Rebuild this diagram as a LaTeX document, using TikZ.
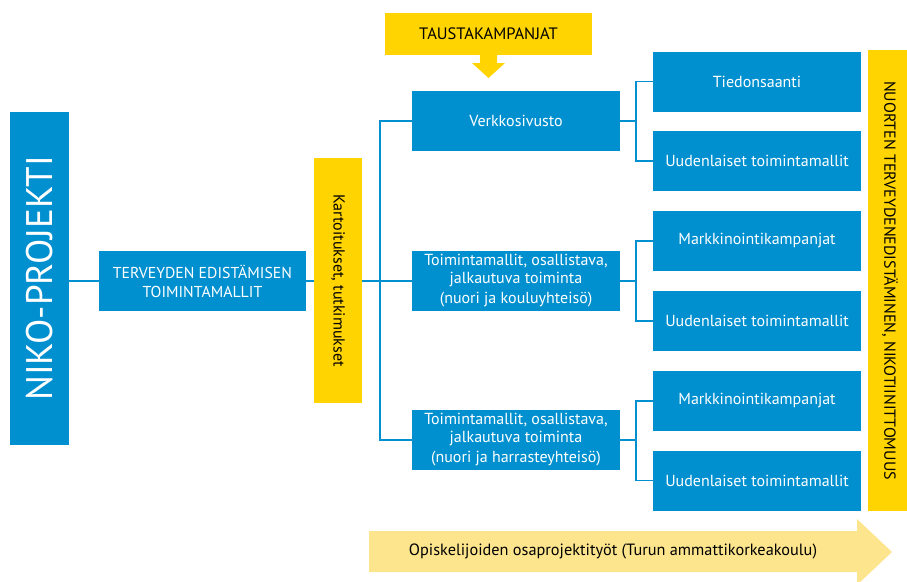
\documentclass[tikz,border=0pt]{standalone}
\usepackage{fontspec}
\setmainfont{PT Sans}
\usetikzlibrary{calc}
\definecolor{nikoblue}{RGB}{0,144,207}
\definecolor{nikoyel}{RGB}{255,212,0}
\definecolor{nikopale}{RGB}{253,229,142}

\begin{document}
\begin{tikzpicture}[x=1pt,y=-1pt]
		\tikzstyle{box} = [fill=nikoblue, text=white, align=center, inner sep=2pt, minimum width=208, minimum height=60, font=\fontsize{16}{18}\selectfont]
		\tikzstyle{ybox} = [fill=nikoyel, text=black, align=center, inner sep=2pt, font=\fontsize{16}{18}\selectfont]
		\tikzstyle{link} = [nikoblue, line width=1.5pt]
		\useasboundingbox (0,0) rectangle (907,581);
		\clip (0,0) rectangle (907,581);
		
		% left part
		\node[box, rotate=90, minimum width=333, minimum height=59, font=\fontsize{37}{37}\selectfont] (niko) at (39.5,278.5) {NIKO-PROJEKTI};
		\node[box, minimum width=207, font=\fontsize{15.8}{19}\selectfont] (terv) at (202.5,281) {TERVEYDEN EDISTÄMISEN\\TOIMINTAMALLIT};
		\node[ybox, rotate=-90, minimum width=245, minimum height=48] (kart) at (338,280.5) {Kartoitukset, tutkimukset};
		
		% middle column
		\node[ybox, minimum width=207, minimum height=42, font=\fontsize{16.5}{18}\selectfont] (tausta) at (488.5,34) {TAUSTAKAMPANJAT};
		\node[box] (verk) at (516,121) {Verkkosivusto};
		\node[box] (toim1) at (516,281) {Toimintamallit, osallistava,\\jalkautuva toiminta\\[2pt](nuori ja kouluyhteisö)};
		\node[box] (toim2) at (516,440) {Toimintamallit, osallistava,\\jalkautuva toiminta\\[2pt](nuori ja harrasteyhteisö)};
		\fill[nikoyel] (480,55) -- (480,63) -- (472,63) -- (488.5,78) -- (505,63) -- (497,63) -- (497,55) -- cycle;
		
		% right column
		\node[box] (tied) at (757,81.5) {Tiedonsaanti};
		\node[box] (uud1) at (757,161) {Uudenlaiset toimintamallit};
		\node[box] (mark1) at (757,241) {Markkinointikampanjat};
		\node[box] (uud2) at (757,321) {Uudenlaiset toimintamallit};
		\node[box] (mark2) at (757,401) {Markkinointikampanjat};
		\node[box] (uud3) at (757,480.5) {Uudenlaiset toimintamallit};
		\node[ybox, rotate=-90, minimum width=461, minimum height=44] (nuor) at (890,280.5) {NUORTEN TERVEYDENEDISTÄMINEN, NIKOTIINITTOMUUS};
		
		% connectors (rotated nodes: niko.south and kart.north are right sides)
		\coordinate (bus) at (380,0); \coordinate (spine) at (636,0);
		\draw[link] (terv.west -| niko.south) -- (terv.west);
		\draw[link] (terv.east) -- (terv.east -| kart.south);
		\draw[link] (kart.north |- terv.east) -- (toim1.west);
		\draw[link] (verk.west) -- (verk.west -| bus) |- (toim2.west);
		\draw[link] (verk.east) -- (verk.east -| spine); \draw[link] (tied.west) -- (tied.west -| spine) |- (uud1.west);
		\draw[link] (toim1.east) -- (toim1.east -| spine); \draw[link] (mark1.west) -- (mark1.west -| spine) |- (uud2.west);
		\draw[link] (toim2.east) -- (toim2.east -| spine); \draw[link] (mark2.west) -- (mark2.west -| spine) |- (uud3.west);
		
		% bottom arrow
		\fill[nikopale] (369,531) -- (857,531) -- (857,519) -- (892,552) -- (857,585) -- (857,572) -- (369,572) -- cycle;
		\node[font=\fontsize{16.3}{18}\selectfont] (opisk) at (613,551.5) {Opiskelijoiden osaprojektityöt (Turun ammattikorkeakoulu)};
\end{tikzpicture}
\end{document}
